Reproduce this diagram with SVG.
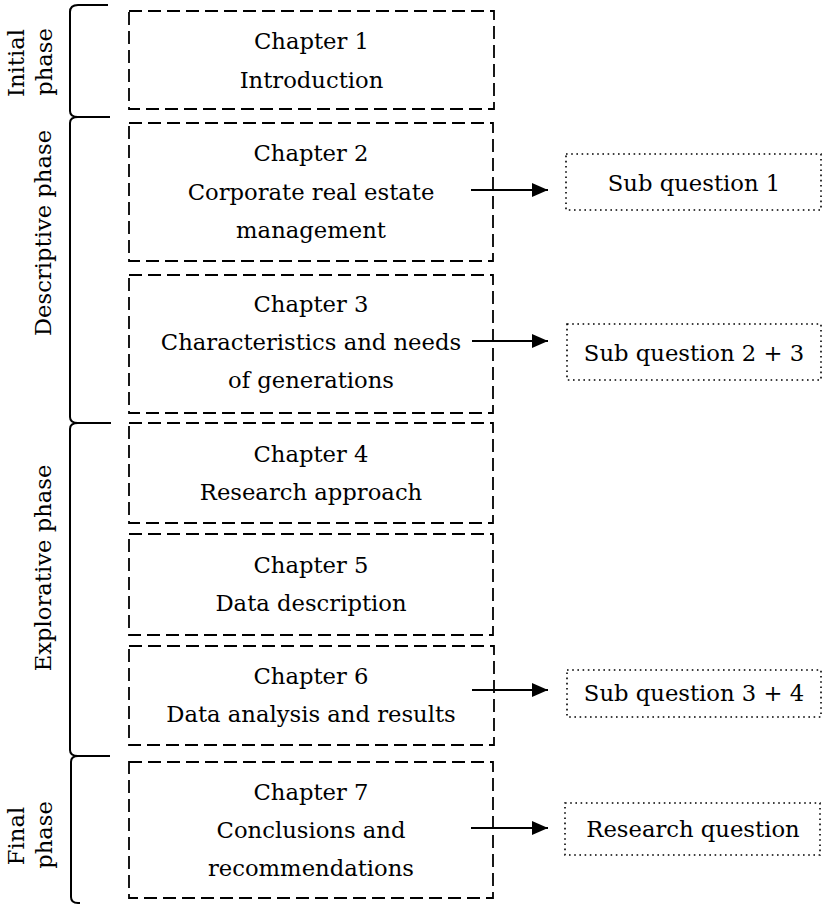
<svg xmlns="http://www.w3.org/2000/svg" width="824" height="906" viewBox="0 0 824 906">
  <style>
    text { font-family: "DejaVu Serif", "Liberation Serif", serif; font-size: 22.7px; fill: #000; text-anchor: middle; }
    .chapter { fill: #fff; stroke: #000; stroke-width: 1.8; stroke-dasharray: 13 6; }
    .question { fill: #fff; stroke: #000; stroke-width: 1.6; stroke-dasharray: 1.6 3.6; }
    .brace { fill: none; stroke: #000; stroke-width: 2; stroke-linejoin: round; }
    .arrow { stroke: #000; stroke-width: 2; fill: none; marker-end: url(#head); }
  </style>
  <defs>
    <marker id="head" markerUnits="userSpaceOnUse" markerWidth="17" markerHeight="15" refX="16" refY="7" orient="auto">
      <path d="M0,0 L16,7 L0,14 z" fill="#000"/>
    </marker>
  </defs>

  <!-- phase braces and labels -->
  <g id="phase-initial">
    <path class="brace" d="M108,5 L78,5 Q70,5 70,12 L70,111 Q70,117 78,117 L110,117"/>
    <text transform="translate(24,63) rotate(-90)">Initial</text>
    <text transform="translate(52,62) rotate(-90)">phase</text>
  </g>
  <g id="phase-descriptive">
    <path class="brace" d="M110,117 L78,117 Q70,117 70,123 L70,417 Q70,423 78,423 L111,423"/>
    <text transform="translate(51,233) rotate(-90)">Descriptive phase</text>
  </g>
  <g id="phase-explorative">
    <path class="brace" d="M111,423 L78,423 Q70,423 70,429 L70,750 Q70,756 78,756 L110,756"/>
    <text transform="translate(51,568) rotate(-90)">Explorative phase</text>
  </g>
  <g id="phase-final">
    <path class="brace" d="M110,756 L78,756 Q71,756 71,762 L71,897 Q71,903 78,903 L80,903"/>
    <text transform="translate(24,836) rotate(-90)">Final</text>
    <text transform="translate(52,835) rotate(-90)">phase</text>
  </g>

  <!-- chapters -->
  <g id="chapter-1">
    <rect class="chapter" x="129" y="11" width="365" height="98"/>
    <text x="311.5" y="49">Chapter 1</text>
    <text x="311.5" y="88">Introduction</text>
  </g>
  <g id="chapter-2">
    <rect class="chapter" x="129" y="123" width="364" height="138"/>
    <text x="311" y="161">Chapter 2</text>
    <text x="311" y="200">Corporate real estate</text>
    <text x="311" y="238">management</text>
  </g>
  <g id="chapter-3">
    <rect class="chapter" x="129" y="275" width="364" height="138"/>
    <text x="311" y="312">Chapter 3</text>
    <text x="311" y="350">Characteristics and needs</text>
    <text x="311" y="388">of generations</text>
  </g>
  <g id="chapter-4">
    <rect class="chapter" x="129" y="423" width="364" height="100"/>
    <text x="311" y="462">Chapter 4</text>
    <text x="311" y="500">Research approach</text>
  </g>
  <g id="chapter-5">
    <rect class="chapter" x="129" y="534" width="364" height="101"/>
    <text x="311" y="573">Chapter 5</text>
    <text x="311" y="611">Data description</text>
  </g>
  <g id="chapter-6">
    <rect class="chapter" x="129" y="646" width="365" height="99"/>
    <text x="311" y="684">Chapter 6</text>
    <text x="311" y="722">Data analysis and results</text>
  </g>
  <g id="chapter-7">
    <rect class="chapter" x="129" y="762" width="364" height="136"/>
    <text x="311" y="800">Chapter 7</text>
    <text x="311" y="838">Conclusions and</text>
    <text x="311" y="876">recommendations</text>
  </g>

  <!-- questions -->
  <g id="sub-question-1">
    <rect class="question" x="566" y="154" width="255" height="56"/>
    <text x="694" y="191">Sub question 1</text>
  </g>
  <g id="sub-question-2-3">
    <rect class="question" x="567" y="324" width="254" height="56"/>
    <text x="694" y="361">Sub question 2 + 3</text>
  </g>
  <g id="sub-question-3-4">
    <rect class="question" x="567" y="670" width="254" height="47"/>
    <text x="694" y="701">Sub question 3 + 4</text>
  </g>
  <g id="research-question">
    <rect class="question" x="565" y="803" width="255" height="52"/>
    <text x="693" y="837">Research question</text>
  </g>

  <!-- connectors -->
  <g id="connectors">
    <line class="arrow" x1="471" y1="190" x2="548" y2="190"/>
    <line class="arrow" x1="472" y1="341" x2="548" y2="341"/>
    <line class="arrow" x1="472" y1="690" x2="548" y2="690"/>
    <line class="arrow" x1="471" y1="828" x2="548" y2="828"/>
  </g>
</svg>
